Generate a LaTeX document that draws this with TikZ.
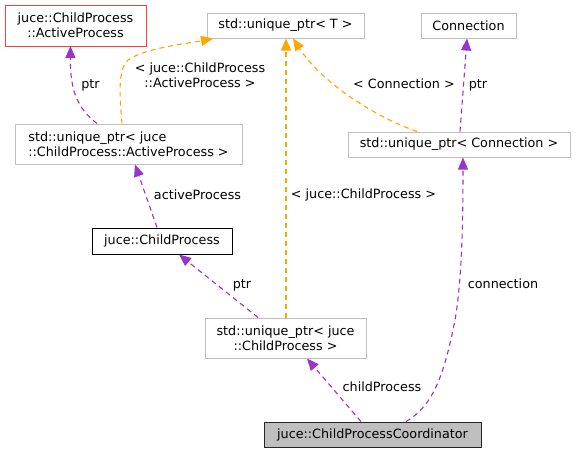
\documentclass[tikz,border=0pt]{standalone}
\usepackage{fontspec}
\setmainfont{DejaVu Sans}
\usetikzlibrary{arrows.meta,calc}
\definecolor{pur}{HTML}{9A32CD}
\definecolor{org}{HTML}{FFA500}
\definecolor{gbord}{HTML}{BFBFBF}
\definecolor{rbord}{rgb}{0.98,0.25,0.25}
\tikzset{
  box/.style={line width=1pt,fill=white,inner sep=0pt,align=center,font=\fontsize{12.75}{15}\selectfont},
  greybox/.style={box,draw=gbord},
  classred/.style={box},
  redframe/.style={draw=rbord,line width=1pt},
  blkbox/.style={box,draw=black},
  mainbox/.style={box,draw=black!85,fill=gbord},
  lbl/.style={inner sep=0pt,align=center,font=\fontsize{12.75}{15}\selectfont,text height=9.5pt,text depth=2.5pt},
  pedge/.style={draw=pur,line width=1.1pt,dash pattern=on 5pt off 4pt,-{Triangle[length=12pt,width=10pt,fill=pur]}},
  oedge/.style={draw=org,line width=1.1pt,dash pattern=on 5pt off 4pt,-{Triangle[length=12pt,width=10pt,fill=org]}},
}
\begin{document}
\begin{tikzpicture}[x=1pt,y=-1pt]
\useasboundingbox[fill=white] (0,0) rectangle (576,453);
% nodes
\node[greybox,minimum width=157pt,minimum height=25pt] (upt) at (285.5,25.5) {std::unique\_ptr< T >};
\node[classred,minimum width=140pt,minimum height=40pt] (ap) at (75.5,25.5) {juce::ChildProcess\\::ActiveProcess};
\node[greybox,minimum width=95pt,minimum height=25pt] (conn) at (468.5,25.5) {Connection};
\node[greybox,minimum width=227pt,minimum height=40pt,align=left] (upap) at (128.5,144) {std::unique\_ptr< juce\\::ChildProcess::ActiveProcess >};
\node[greybox,minimum width=222pt,minimum height=25pt] (upconn) at (459,144.5) {std::unique\_ptr< Connection >};
\node[blkbox,minimum width=140pt,minimum height=26pt] (cp) at (162,241) {juce::ChildProcess};
\node[greybox,minimum width=161pt,minimum height=40pt] (upcp) at (285.5,338) {std::unique\_ptr< juce\\::ChildProcess >};
\node[mainbox,minimum width=217pt,minimum height=25pt] (coord) at (372.5,434.5) {juce::ChildProcessCoordinator};
% red outline of the class node
\draw[redframe] (ap.north west) rectangle (ap.south east);
% edges
\draw[pedge] ([xshift=-31.5pt]upap.north) .. controls (80,110) and (70,95) .. ([xshift=-5pt]ap.south);
\draw[oedge] ([xshift=-6.5pt]upap.north) .. controls (120,100) and (117,70) .. (128,60) .. controls (145,48) and (185,44) .. ([xshift=-72.5pt]upt.south);
\draw[oedge] ([xshift=0.5pt]upcp.north) -- ([xshift=0.5pt]upt.south);
\draw[oedge] ([xshift=-42pt]upconn.north) .. controls (370,115) and (320,80) .. ([xshift=7.5pt]upt.south);
\draw[pedge] ([xshift=1pt]upconn.north) -- ([xshift=-1.5pt]conn.south);
\draw[pedge] ([xshift=-5pt]cp.north) -- ([xshift=6.5pt]upap.south);
\draw[pedge] ([xshift=-27.5pt]upcp.north) -- ([xshift=17pt]cp.south);
\draw[pedge] ([xshift=-11.5pt]coord.north) -- ([xshift=21.5pt]upcp.south);
\draw[pedge] ([xshift=33.5pt]coord.north) .. controls (435,405) and (445,370) .. (455,320) .. controls (462,280) and (463,220) .. ([xshift=4pt]upconn.south);
% labels
\node[lbl] (l1) at (90.5,85) {ptr};
\node[lbl] (l2) at (200,84) {< juce::ChildProcess\\::ActiveProcess >};
\node[lbl] (l3) at (363.5,195) {< juce::ChildProcess >};
\node[lbl] (l4) at (404,85) {< Connection >};
\node[lbl] (l5) at (478,85) {ptr};
\node[lbl] (l6) at (197.5,196) {activeProcess};
\node[lbl] (l7) at (242,285) {ptr};
\node[lbl] (l8) at (382,388) {childProcess};
\node[lbl] (l9) at (503,285) {connection};
\end{tikzpicture}
\end{document}
